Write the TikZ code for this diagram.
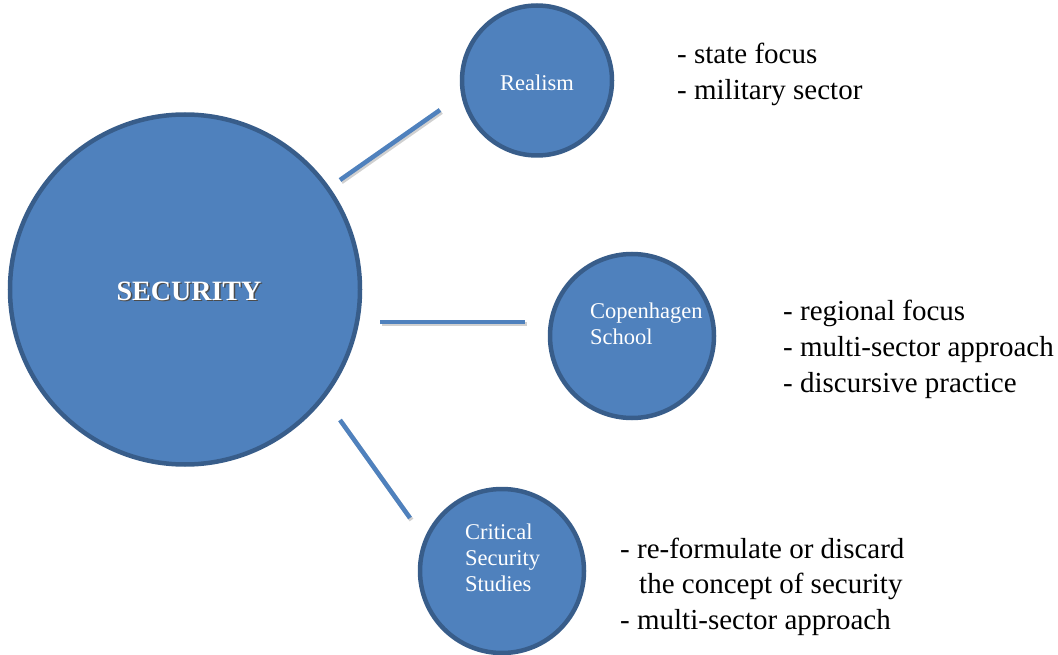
\documentclass[tikz,border=0pt]{standalone}
\usepackage{fontspec}
\setmainfont{Liberation Serif}
\definecolor{cfill}{HTML}{4F81BD}
\definecolor{cedge}{HTML}{385D8A}
\definecolor{lshadow}{HTML}{B0B0B0}
\begin{document}
\begin{tikzpicture}[x=1pt,y=-1pt,
  bubble/.style={circle,draw=cedge,fill=cfill,line width=4.5pt,inner sep=0pt},
  conn/.style={draw=cfill,line width=4.5pt},
  connshadow/.style={draw=lshadow,line width=4.5pt,opacity=0.6},
  lbl/.style={text=white,anchor=base west,inner sep=0pt,font=\fontsize{22.5}{26.5}\selectfont},
  bul/.style={text=black,anchor=base west,inner sep=0pt,font=\fontsize{29}{36}\selectfont}]
\useasboundingbox (0,0) rectangle (1058,655);
% circles
\node[bubble,minimum size=350pt] (sec) at (185,289.5) {};
\node[bubble,minimum size=150pt] (real) at (537,80.5) {};
\node[bubble,minimum size=164pt] (cop) at (632,336) {};
\node[bubble,minimum size=164pt] (crit) at (502,571) {};
% connector end points
\coordinate (a1) at (340,180); \coordinate (a2) at (440,110);
\coordinate (b1) at (380,322); \coordinate (b2) at (525,322);
\coordinate (c1) at (340,420); \coordinate (c2) at (410,518);
\foreach \p/\q in {a1/a2,b1/b2,c1/c2}{
  \draw[connshadow] ([shift={(1.5,2)}]\p) -- ([shift={(1.5,2)}]\q);
}
\draw[conn] (a1) -- (a2);
\draw[conn] (b1) -- (b2);
\draw[conn] (c1) -- (c2);
% central label
\node[text=black!70,anchor=base,inner sep=0pt,font=\fontsize{28}{30}\selectfont\bfseries] (secs) at (190.5,301.5) {SECURITY};
\node[text=white,anchor=base,inner sep=0pt,font=\fontsize{28}{30}\selectfont\bfseries] (sect) at (189,300) {SECURITY};
% circle labels
\node[lbl] (rl) at (500,91) {Realism};
\node[lbl] (cl1) at (590,318) {Copenhagen};
\node[lbl] (cl2) at (590,344) {School};
\node[lbl] (kl1) at (465,539) {Critical};
\node[lbl] (kl2) at (465,565) {Security};
\node[lbl] (kl3) at (465,591) {Studies};
% bullet texts
\node[bul] (r1) at (677,64) {- state focus};
\node[bul] (r2) at (677,100) {- military sector};
\node[bul] (p1) at (783,320) {- regional focus};
\node[bul] (p2) at (783,356) {- multi-sector approach};
\node[bul] (p3) at (783,392) {- discursive practice};
\node[bul] (q1) at (620,558) {- re-formulate or discard};
\node[bul] (q2) at (639,593) {the concept of security};
\node[bul] (q3) at (620,629) {- multi-sector approach};
\end{tikzpicture}
\end{document}
